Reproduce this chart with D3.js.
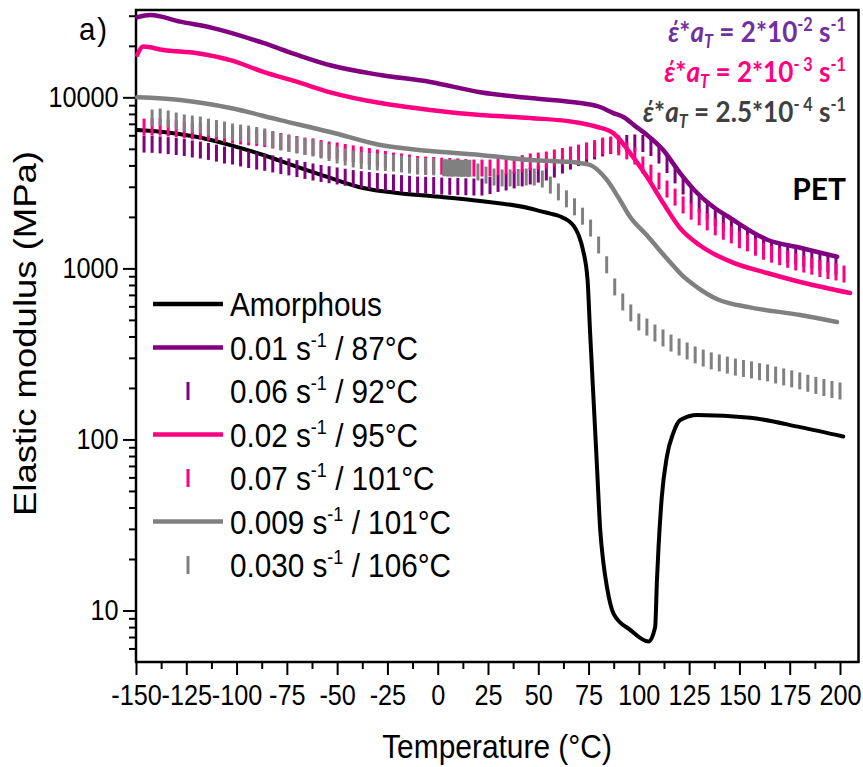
<!DOCTYPE html>
<html><head><meta charset="utf-8">
<script src="https://cdn.jsdelivr.net/npm/d3@7"></script>
<style>body{margin:0;background:#fff;}svg{display:block;}</style>
</head><body>
<svg id="chart" width="863" height="767"></svg>
<script>
// ---------------- DATA ----------------
const xTicks = [-150,-125,-100,-75,-50,-25,0,25,50,75,100,125,150,175,200];
const xMinorTicks = [-137.5,-112.5,-87.5,-62.5,-37.5,-12.5,12.5,37.5,62.5,87.5,112.5,137.5,162.5,187.5];
const yTicks = [10,100,1000,10000];
const yMinorTicks = [6,7,8,9,20,30,40,50,60,70,80,90,200,300,400,500,600,700,800,900,2000,3000,4000,5000,6000,7000,8000,9000,20000,30000];

// Amorphous (black line)
const amorphousT = [-149.4,-136.4,-119.5,-103.1,-86.7,-69.8,-53.4,-37,-20.1,-3.7,21.1,46,51,56,61,65,67.6,70,72.1,74.5,75.7,77.4,79.1,80.8,82.4,84.1,87.4,95.7,104.8,108.1,109,109.8,111.4,113.9,117.1,120.6,129.1,155.4,180.2,201.6];
const amorphousE = [6440,6270,5860,5260,4600,3920,3380,2950,2760,2650,2480,2240,2160,2090,2010,1900,1770,1570,1300,856,436,178,72.6,29.5,18.9,13.8,9.6,7.7,6.58,8.0,15.1,23.6,46,79,109,130,139,134,118,104];

// 0.01 s-1 / 87°C (purple line)
const purpleLineT = [-149.4,-142.9,-128,-111.6,-86.7,-69.8,-53.4,-28.5,-3.7,21.1,46,70.8,80.7,87.3,92.3,98.2,104.1,112.1,120.5,129,136.9,145.4,163.8,180.2,198.6];
const purpleLineE = [29400,30300,27700,25400,20800,17700,15400,13500,12300,10700,9900,9260,8780,8090,7670,6790,6020,4920,3610,2760,2290,1970,1470,1320,1170];

// 0.06 s-1 / 92°C (purple ticks)
const purpleMarkT = [-146,-142,-138,-134,-130,-126,-122,-118,-114,-110,-106,-102,-98,-94,-90,-86,-82,-78,-74,-70,-66,-62,-58,-54,-50,-46,-42,-38,-34,-30,-26,-22,-18,-14,-10,-6,-2,2,6,10,14,18,22,26,30,34,38,42,46,50,54,58,62,66,70,74,78,82,86,90,94,98,102,106,110,114,118,122,126,130,134,138,142,146,150,154,158,162,166,170,174,178,182,186,190,194,198];
const purpleMarkE = [5330,5310,5270,5220,5160,5090,4990,4920,4830,4720,4600,4540,4420,4330,4240,4170,4080,3990,3920,3830,3740,3660,3590,3530,3470,3410,3350,3300,3260,3220,3190,3160,3130,3100,3070,3060,3050,3030,3020,3010,3000,2990,2990,3050,3140,3200,3290,3380,3470,3560,3660,3810,4020,4240,4450,4670,4860,5060,5230,5330,5380,5410,5370,5090,4600,4050,3520,3030,2690,2380,2160,1980,1850,1730,1620,1520,1430,1330,1280,1250,1210,1180,1150,1120,1090,1060,1030];

// 0.02 s-1 / 95°C (pink line)
const pinkLineT = [-149.4,-146.4,-136.4,-119.5,-103.1,-86.7,-69.8,-53.4,-28.5,-3.7,21.1,46,70.8,79,87.3,95.7,104.1,112.1,120.5,130.1,146.8,163.8,180.2,205];
const pinkLineE = [17700,19800,18900,18100,16500,14100,12300,10700,9260,8440,7880,7570,7080,6730,6180,4720,3420,2410,1720,1370,1080,940,833,718];

// 0.07 s-1 / 101°C (pink ticks)
const pinkMarkT = [-146,-142,-138,-134,-130,-126,-122,-118,-114,-110,-106,-102,-98,-94,-90,-86,-82,-78,-74,-70,-66,-62,-58,-54,-50,-46,-42,-38,-34,-30,-26,-22,-18,-14,-10,-6,-2,2,6,10,14,18,22,26,30,34,38,42,46,50,54,58,62,66,70,74,78,82,86,90,94,98,102,106,110,114,118,122,126,130,134,138,142,146,150,154,158,162,166,170,174,178,182,186,190,194,198,202];
const pinkMarkE = [6700,6700,6700,6620,6540,6450,6360,6310,6270,6180,6100,6020,5940,5870,5820,5740,5630,5520,5410,5300,5190,5130,5020,4920,4860,4760,4670,4600,4510,4420,4330,4240,4190,4130,4050,4020,3990,3960,3940,3920,3890,3860,3860,3860,3920,3960,4020,4100,4190,4240,4300,4420,4510,4600,4720,4860,5020,5190,5260,5130,4860,4540,4020,3610,3240,2910,2610,2350,2160,2000,1870,1750,1650,1570,1470,1410,1330,1260,1210,1170,1130,1090,1060,1030,998,972,953,927];

// 0.009 s-1 / 101°C (gray line)
const grayLineT = [-149.4,-128,-103.1,-78.3,-53.4,-28.5,-3.7,21.1,46,70.8,75.8,84.1,90,95.6,104,110,117,122,129,139,155.3,180.2,198.5];
const grayLineE = [10000,9640,8660,7360,6270,5260,4850,4600,4300,4130,4020,3290,2580,2005,1560,1290,1040,900,775,660,592,534,486];

// 0.030 s-1 / 106°C (gray ticks)
const grayMarkT = [-142,-138,-134,-130,-126,-122,-118,-114,-110,-106,-102,-98,-94,-90,-86,-82,-78,-74,-70,-66,-62,-58,-54,-50,-46,-42,-38,-34,-30,-26,-22,-18,-14,-10,-6,-2,3,4,5,6,7,8,9,10,11,12,13,14,15,16,20,24,28,32,36,40,44,48,52,56,60,64,68,72,76,80,84,88,92,96,100,104,108,112,116,120,124,128,132,136,140,144,148,152,156,160,164,168,172,176,180,184,188,192,196,200];
const grayMarkE = [7570,7670,7470,7270,7080,6980,6890,6700,6570,6440,6270,6180,6100,5980,5870,5670,5480,5370,5260,5160,5060,4920,4760,4600,4480,4360,4270,4220,4190,4160,4130,4080,4020,3960,3940,3920,3870,3880,3860,3870,3850,3860,3870,3850,3860,3840,3850,3860,3840,3850,3660,3510,3420,3380,3380,3400,3420,3420,3330,3070,2800,2550,2290,2020,1720,1370,1050,779,636,549,486,454,419,392,366,347,329,312,299,288,280,272,265,260,255,249,245,238,232,226,220,213,207,201,196,192];

// legend
const legendMain = ["Amorphous","0.01 s","0.06 s","0.02 s","0.07 s","0.009 s","0.030 s"];
const legendSup  = ["","-1","-1","-1","-1","-1","-1"];
const legendTail = [""," / 87°C"," / 92°C"," / 95°C"," / 101°C"," / 101°C"," / 106°C"];
const legendKind = ["line","line","mark","line","mark","line","mark"];
const legendColor = ["#000000","#800080","#800080","#FF0080","#FF0080","#808080","#808080"];

// annotations (rate * shift factor)
const annMantissa = ["2","2","2.5"];
const annExponent = ["-2","- 3","- 4"];
const annColor = ["#7030A0","#FF0080","#404040"];

// ---------------- CHART ----------------
const W = 863, H = 767;
const P = {left:136, top:10, right:858.5, bottom:662};
const FONT = "'Liberation Sans', Arial, sans-serif";
const BOLD = "Lato, 'Open Sans', sans-serif";

const x = d3.scaleLinear().domain([-150, 209.2]).range([P.left, P.right]);
const y = d3.scaleLog().domain([5, 32400]).range([P.bottom, P.top]);

const svg = d3.select("#chart");
svg.append("rect").attr("width", W).attr("height", H).attr("fill", "#fff");

// axes
function styleAxis(g){
  g.select(".domain").remove();
  g.selectAll(".tick line").attr("stroke", "#000").attr("stroke-width", 2);
}
const gxMinor = svg.append("g").attr("transform", `translate(0,${P.bottom})`)
  .call(d3.axisBottom(x).tickValues(xMinorTicks).tickSize(7).tickFormat(""));
styleAxis(gxMinor);
const gx = svg.append("g").attr("transform", `translate(0,${P.bottom})`)
  .call(d3.axisBottom(x).tickValues(xTicks).tickSize(13).tickPadding(9).tickFormat(d => String(d)));
styleAxis(gx);
gx.selectAll(".tick text").attr("font-family", FONT).attr("font-size", 29).attr("fill", "#000")
  .attr("transform", "scale(0.87,1)");

const gyMinor = svg.append("g").attr("transform", `translate(${P.left},0)`)
  .call(d3.axisLeft(y).tickValues(yMinorTicks).tickSize(7).tickFormat(""));
styleAxis(gyMinor);
const gy = svg.append("g").attr("transform", `translate(${P.left},0)`)
  .call(d3.axisLeft(y).tickValues(yTicks).tickSize(13).tickPadding(7).tickFormat(d => String(d)));
styleAxis(gy);
gy.selectAll(".tick text").attr("font-family", FONT).attr("font-size", 29).attr("fill", "#000")
  .attr("transform", "scale(0.87,1)");

// frame
svg.append("rect").attr("x", P.left).attr("y", P.top)
  .attr("width", P.right - P.left).attr("height", P.bottom - P.top)
  .attr("fill", "none").attr("stroke", "#000").attr("stroke-width", 2.5);

// data helpers
const zip = (T, E) => T.map((t, i) => ({t, e: E[i]}));
const line = d3.line().x(d => x(d.t)).y(d => y(d.e)).curve(d3.curveMonotoneX);
const plotG = svg.append("g");
function drawLine(T, E, color, w){
  plotG.append("path").datum(zip(T, E)).attr("d", line)
    .attr("fill", "none").attr("stroke", color).attr("stroke-width", w)
    .attr("stroke-linejoin", "round").attr("stroke-linecap", "round");
}
const MARK = 17;
function drawMarks(T, E, color){
  plotG.append("g").selectAll("line").data(zip(T, E)).join("line")
    .attr("x1", d => x(d.t)).attr("x2", d => x(d.t))
    .attr("y1", d => y(d.e) - MARK/2).attr("y2", d => y(d.e) + MARK/2)
    .attr("stroke", color).attr("stroke-width", 3);
}
drawLine(amorphousT, amorphousE, "#000000", 4);
drawLine(purpleLineT, purpleLineE, "#800080", 4.5);
drawMarks(purpleMarkT, purpleMarkE, "#800080");
drawLine(pinkLineT, pinkLineE, "#FF0080", 4.5);
drawMarks(pinkMarkT, pinkMarkE, "#FF0080");
drawLine(grayLineT, grayLineE, "#808080", 4.5);
drawMarks(grayMarkT, grayMarkE, "#808080");

// axis titles
svg.append("text").attr("transform", "translate(497,758) scale(0.88,1)")
  .attr("text-anchor", "middle").attr("font-family", FONT).attr("font-size", 34)
  .text("Temperature (°C)");
svg.append("text").attr("transform", "translate(36,333.5) rotate(-90)")
  .attr("text-anchor", "middle").attr("font-family", FONT).attr("font-size", 31)
  .attr("textLength", 365).attr("lengthAdjust", "spacingAndGlyphs")
  .text("Elastic modulus (MPa)");
svg.append("text").attr("transform", "translate(79,40) scale(0.95,1)")
  .attr("font-family", FONT).attr("font-size", 31).attr("letter-spacing", 2).text("a)");

// legend
const lg = svg.append("g");
legendMain.forEach((m, i) => {
  const ly = 304 + i * 43.5;
  if (legendKind[i] === "line") {
    lg.append("line").attr("x1", 153).attr("x2", 223).attr("y1", ly).attr("y2", ly)
      .attr("stroke", legendColor[i]).attr("stroke-width", 4.5);
  } else {
    lg.append("line").attr("x1", 188).attr("x2", 188).attr("y1", ly - 9).attr("y2", ly + 9)
      .attr("stroke", legendColor[i]).attr("stroke-width", 3);
  }
  const t = lg.append("text").attr("transform", `translate(230,${ly + 12}) scale(0.9,1)`)
    .attr("font-family", FONT).attr("font-size", 33).attr("fill", "#000");
  t.append("tspan").text(m);
  if (legendSup[i]) {
    t.append("tspan").attr("font-size", 20).attr("dy", -13).text(legendSup[i]);
    t.append("tspan").attr("dy", 13).text(legendTail[i]);
  }
});

// annotations top-right
const annBase = [42, 82, 122];
annMantissa.forEach((mant, i) => {
  const t = svg.append("text").attr("transform", `translate(846,${annBase[i]}) scale(0.9,1)`)
    .attr("text-anchor", "end").attr("font-family", BOLD).attr("font-weight", "bold")
    .attr("font-size", 29).attr("fill", annColor[i]);
  t.append("tspan").attr("font-style", "italic").text("έ");
  t.append("tspan").text("*");
  t.append("tspan").attr("font-style", "italic").text("a");
  t.append("tspan").attr("font-style", "italic").attr("font-size", 18).attr("dy", 6).text("T");
  t.append("tspan").attr("dy", -6).text(" = " + mant + "*10");
  t.append("tspan").attr("font-size", 18).attr("dy", -11).text(annExponent[i]);
  t.append("tspan").attr("dy", 11).text(" s");
  t.append("tspan").attr("font-size", 18).attr("dy", -11).text("-1");
});

svg.append("text").attr("x", 846).attr("y", 200).attr("text-anchor", "end")
  .attr("font-family", BOLD).attr("font-weight", "bold").attr("font-size", 30).text("PET");
</script>
</body></html>
